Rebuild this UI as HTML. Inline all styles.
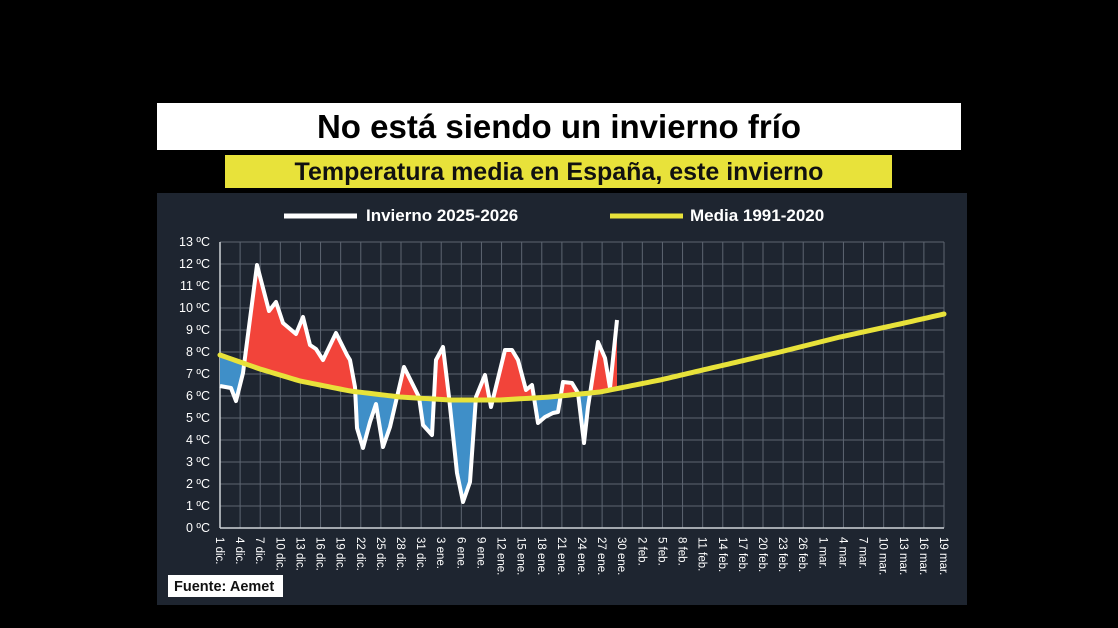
<!DOCTYPE html>
<html><head><meta charset="utf-8"><style>
html,body{margin:0;padding:0;background:#000;}
body{width:1118px;height:628px;overflow:hidden;position:relative;font-family:"Liberation Sans",sans-serif;}
</style></head><body>
<svg id="s" width="1118" height="628" xmlns="http://www.w3.org/2000/svg" style="position:absolute;left:0;top:0">
<rect x="157" y="103" width="804" height="47" fill="#fff"/>
<text x="559" y="138" text-anchor="middle" font-size="33" font-weight="bold" fill="#000">No está siendo un invierno frío</text>
<rect x="225" y="155" width="667" height="33" fill="#e8e23a"/>
<text x="559" y="180" text-anchor="middle" font-size="25" font-weight="bold" fill="#111">Temperatura media en España, este invierno</text>
<rect x="157" y="193" width="810" height="412" fill="#1e2530"/>
<line x1="284" y1="216" x2="357" y2="216" stroke="#fff" stroke-width="5"/>
<text x="366" y="221" font-size="17" font-weight="bold" fill="#fff">Invierno 2025-2026</text>
<line x1="610" y1="216" x2="683" y2="216" stroke="#e8e23a" stroke-width="5"/>
<text x="690" y="221" font-size="17" font-weight="bold" fill="#fff">Media 1991-2020</text>
<g id="grid"></g>
<g id="fills"></g>
<g id="lines"></g>
<rect x="168" y="575" width="115" height="22" fill="#fff"/>
<text x="174" y="591" font-size="14.5" font-weight="bold" fill="#111">Fuente: Aemet</text>
</svg>
<script>
var NS="http://www.w3.org/2000/svg",s=document.getElementById('s');
function el(p,t,a,txt){var e=document.createElementNS(NS,t);for(var k in a)e.setAttribute(k,a[k]);if(txt!=null)e.textContent=txt;p.appendChild(e);return e;}
var g=document.getElementById('grid');
var x0=220,x1=944,y0=528,dy=22;
for(var i=0;i<=13;i++){var y=y0-i*dy;el(g,'line',{x1:x0,x2:x1,y1:y,y2:y,stroke:'#5d6571','stroke-width':1});
el(g,'text',{x:210,y:y+4,'text-anchor':'end','font-size':12.5,fill:'#fff'},i+' ºC');}
var labels=[];
for(var d=1;d<=31;d+=3)labels.push(d+' dic.');
for(var d=3;d<=30;d+=3)labels.push(d+' ene.');
for(var d=2;d<=26;d+=3)labels.push(d+' feb.');
for(var d=1;d<=19;d+=3)labels.push(d+' mar.');
var step=(x1-x0)/(labels.length-1);
labels.forEach(function(l,i){var x=x0+i*step;
el(g,'line',{x1:x,x2:x,y1:242,y2:y0,stroke:'#5d6571','stroke-width':1});
el(g,'text',{x:x-4,y:537,'font-size':11.5,fill:'#fff',transform:'rotate(90 '+(x-4)+' 537)'},l);});
el(g,'line',{x1:x0,x2:x0,y1:242,y2:y0,stroke:'#cfd3d8','stroke-width':1.5});
el(g,'line',{x1:x0,x2:x1,y1:y0,y2:y0,stroke:'#cfd3d8','stroke-width':1.5});
var ser=[[220,386],[231,388],[236,401],[243,373],[257,265],[269,311],[276,302],[283,323],[296,334],[303,317],[310,345],[316,349],[323,360],[336,333],[347,355],[350,360],[355,387],[357,428],[363,448],[370,422],[376,404],[383,447],[390,427],[404,367],[419,397],[423,425],[432,435],[436,360],[443,347],[449,397],[457,473],[463,502],[470,482],[476,397],[485,375],[491,407],[505,350],[512,350],[518,360],[526,390],[532,385],[538,423],[545,417],[553,413],[558,412],[563,382],[572,383],[578,393],[584,443],[588,407],[598,342],[605,358],[610,388],[617,320]];
var mean=[[220,355],[260,369],[300,381],[350,391],[400,397],[450,400],[500,400],[550,397],[600,392],[660,380],[720,366],[780,352],[840,337],[900,324],[944,314]];
function interp(x){for(var i=0;i<mean.length-1;i++){var a=mean[i],b=mean[i+1];if(x>=a[0]&&x<=b[0]){var t=(x-a[0])/(b[0]-a[0]);return a[1]+t*(b[1]-a[1]);}}return mean[mean.length-1][1];}
var mfine=[];for(var x=220;x<=944;x+=4)mfine.push([x,interp(x)]);
var mpart=[];for(var x=220;x<=617;x+=1)mpart.push([x,interp(x)]);
function pts(a){return a.map(function(p){return p[0]+','+p[1];}).join(' ');}
var defs=el(s,'defs',{});
var c1=el(defs,'clipPath',{id:'aboveMean'});el(c1,'polygon',{points:pts(mpart)+' 617,200 220,200'});
var c2=el(defs,'clipPath',{id:'aboveSer'});el(c2,'polygon',{points:pts(ser)+' 617,200 220,200'});
var f=document.getElementById('fills');
el(f,'polygon',{points:pts(ser)+' 617,528 220,528',fill:'#f2443a','clip-path':'url(#aboveMean)'});
el(f,'polygon',{points:pts(mpart)+' 617,528 220,528',fill:'#3f8fc8','clip-path':'url(#aboveSer)'});
var L=document.getElementById('lines');
el(L,'polyline',{points:pts(ser),fill:'none',stroke:'#fff','stroke-width':4,'stroke-linejoin':'round'});
el(L,'polyline',{points:pts(mfine),fill:'none',stroke:'#e8e23a','stroke-width':5,'stroke-linecap':'round'});
</script>
</body></html>
